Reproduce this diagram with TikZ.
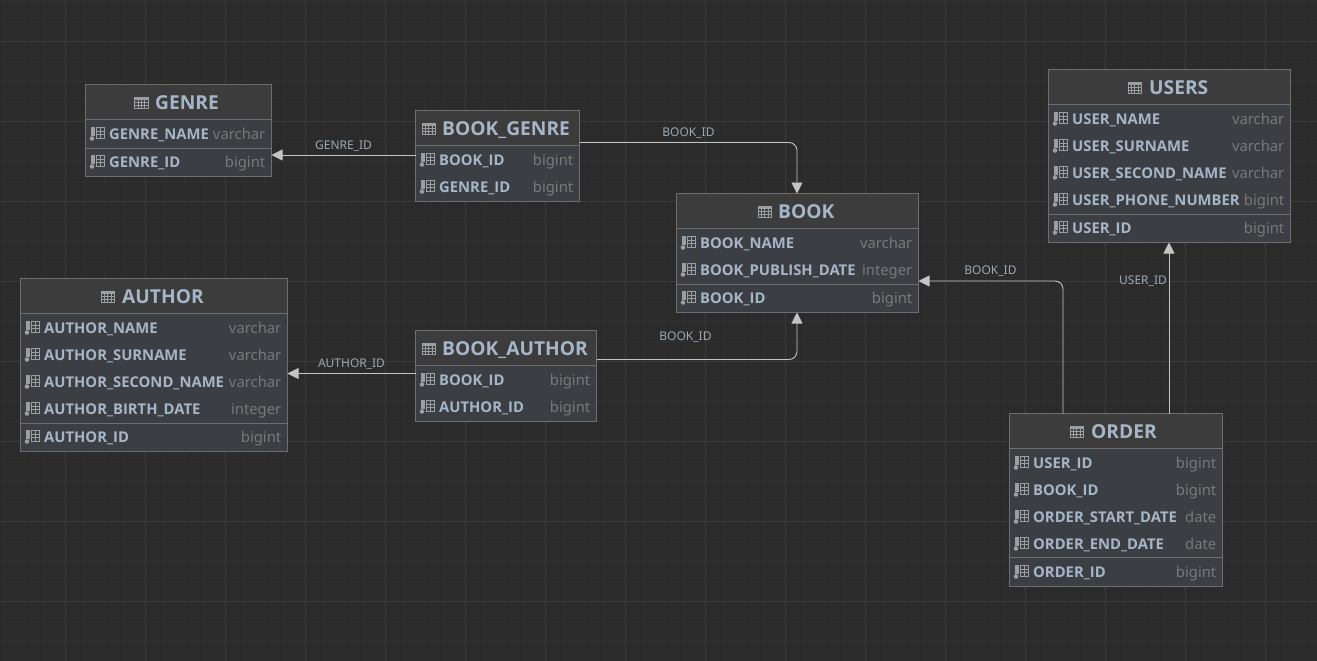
\documentclass[tikz,border=0pt]{standalone}
\usepackage{fontspec}
\setmainfont{Open Sans}
\newfontfamily\typefont{Noto Sans}
\usetikzlibrary{arrows.meta}
\definecolor{bgc}{HTML}{2B2B2B}
\definecolor{gridmin}{HTML}{313131}
\definecolor{gridmaj}{HTML}{3C3C3C}
\definecolor{headc}{HTML}{3C3C3C}
\definecolor{bodyc}{HTML}{3B3F43}
\definecolor{edgec}{HTML}{6E6E6E}
\definecolor{namec}{HTML}{A6B6C8}
\definecolor{typec}{HTML}{787878}
\definecolor{labc}{HTML}{9DA8B3}
\definecolor{linec}{HTML}{C4C4C4}
\definecolor{iconc}{HTML}{9A9FA3}
\tikzset{
  tablebox/.style={draw=edgec,fill=bodyc,line width=1pt,inner sep=0pt,outer sep=0pt,rectangle},
  titletext/.style={anchor=base west,inner sep=0pt,text=namec,font=\fontsize{19.2}{20}\selectfont\bfseries},
  fieldtext/.style={anchor=base west,inner sep=0pt,text=namec,font=\fontsize{14.8}{16}\selectfont\bfseries},
  typetext/.style={anchor=base east,inner sep=0pt,text=typec,font=\typefont\fontsize{14.8}{16}\selectfont},
  linklabel/.style={inner sep=0pt,text=labc,font=\typefont\fontsize{12}{14}\selectfont},
  link/.style={draw=linec,line width=.9pt,rounded corners=8pt,-{Triangle[length=11pt,width=11pt,fill=linec]}},
  sepline/.style={draw=edgec,line width=1pt}
}
\newcommand{\tablebase}[6]{%
  \node[tablebox,minimum width={(#4-#2)*1pt},minimum height={(#5-#3)*1pt}] (#1) at ({(#2+#4)/2},{(#3+#5)/2}) {};
  \fill[headc] (#2+.5,#3+.5) rectangle (#4-.5,#6);
  \draw[sepline] (#2,#6) -- (#4,#6);
}
\newcommand{\tabletitle}[5]{%
  \draw[iconc,line width=.9pt] (#2+.5,#4-5) rectangle (#2+14,#4+6)
    (#2+.5,#4-2.2) -- (#2+14,#4-2.2) (#2+.5,#4+.6) -- (#2+14,#4+.6) (#2+.5,#4+3.3) -- (#2+14,#4+3.3)
    (#2+4,#4-5) -- (#2+4,#4+6) (#2+7.3,#4-5) -- (#2+7.3,#4+6) (#2+10.6,#4-5) -- (#2+10.6,#4+6);
  \fill[iconc] (#2+.5,#4-5) rectangle (#2+14,#4-2.2);
  \node[titletext] (#1-title) at (#3,#4+7.5) {#5};
}
\newcommand{\tablerow}[6]{%
  \fill[iconc] (#2+5,#4-7) rectangle (#2+9,#4+2);
  \fill[iconc] (#2+6.5,#4+4.5) circle (2.3);
  \draw[iconc,line width=.8pt] (#2+11,#4-6.5) rectangle (#2+19,#4+4)
     (#2+11,#4-3) -- (#2+19,#4-3) (#2+11,#4+.5) -- (#2+19,#4+.5) (#2+15,#4-6.5) -- (#2+15,#4+4);
  \node[fieldtext] (#1-f#4) at (#2+23.5,#4+5) {#5};
  \node[typetext] (#1-t#4) at (#3-6,#4+5) {#6};
}
\begin{document}
\begin{tikzpicture}[x=1pt,y=-1pt]
\useasboundingbox (0,0) rectangle (1317,661);
\fill[bgc] (0,0) rectangle (1317,661);
\foreach \i in {0,...,66} {\draw[gridmin,line width=1pt] ({5.5+20*\i},0) -- ({5.5+20*\i},661);}
\foreach \i in {0,...,33} {\draw[gridmin,line width=1pt] (0,{1.5+20*\i}) -- (1317,{1.5+20*\i});}
\foreach \i in {0,...,16} {\draw[gridmaj,line width=1pt] ({65.5+80*\i},0) -- ({65.5+80*\i},661);}
\foreach \i in {0,...,7} {\draw[gridmaj,line width=1pt] (0,{41.5+80*\i}) -- (1317,{41.5+80*\i});}

\tablebase{genre}{85.5}{84.5}{271.5}{176.5}{119.5}
\tabletitle{genre}{134}{155}{102}{GENRE}
\tablerow{genre}{85.5}{271.5}{134}{GENRE\_NAME}{varchar}
\draw[sepline] (85.5,148) -- (271.5,148);
\tablerow{genre}{85.5}{271.5}{162}{GENRE\_ID}{bigint}

\tablebase{bookgenre}{415.5}{110.5}{579.5}{201.5}{145.5}
\tabletitle{bookgenre}{421.5}{442}{128}{BOOK\_GENRE}
\tablerow{bookgenre}{415.5}{579.5}{160}{BOOK\_ID}{bigint}
\tablerow{bookgenre}{415.5}{579.5}{187}{GENRE\_ID}{bigint}

\tablebase{book}{676.5}{193.5}{918.5}{312.5}{228.5}
\tabletitle{book}{757.5}{778}{211}{BOOK}
\tablerow{book}{676.5}{918.5}{243}{BOOK\_NAME}{varchar}
\tablerow{book}{676.5}{918.5}{270}{BOOK\_PUBLISH\_DATE}{integer}
\draw[sepline] (676.5,284) -- (918.5,284);
\tablerow{book}{676.5}{918.5}{298}{BOOK\_ID}{bigint}

\tablebase{users}{1048.5}{69.5}{1290.5}{242.5}{104.5}
\tabletitle{users}{1127.5}{1149}{87}{USERS}
\tablerow{users}{1048.5}{1290.5}{119}{USER\_NAME}{varchar}
\tablerow{users}{1048.5}{1290.5}{146}{USER\_SURNAME}{varchar}
\tablerow{users}{1048.5}{1290.5}{173}{USER\_SECOND\_NAME}{varchar}
\tablerow{users}{1048.5}{1290.5}{200}{USER\_PHONE\_NUMBER}{bigint}
\draw[sepline] (1048.5,214) -- (1290.5,214);
\tablerow{users}{1048.5}{1290.5}{228}{USER\_ID}{bigint}

\tablebase{author}{20.5}{278.5}{287.5}{451.5}{313.5}
\tabletitle{author}{100.5}{122}{296}{AUTHOR}
\tablerow{author}{20.5}{287.5}{328}{AUTHOR\_NAME}{varchar}
\tablerow{author}{20.5}{287.5}{355}{AUTHOR\_SURNAME}{varchar}
\tablerow{author}{20.5}{287.5}{382}{AUTHOR\_SECOND\_NAME}{varchar}
\tablerow{author}{20.5}{287.5}{409}{AUTHOR\_BIRTH\_DATE}{integer}
\draw[sepline] (20.5,423) -- (287.5,423);
\tablerow{author}{20.5}{287.5}{437}{AUTHOR\_ID}{bigint}

\tablebase{bookauthor}{415.5}{330.5}{596.5}{421.5}{365.5}
\tabletitle{bookauthor}{421.5}{442}{348}{BOOK\_AUTHOR}
\tablerow{bookauthor}{415.5}{596.5}{380}{BOOK\_ID}{bigint}
\tablerow{bookauthor}{415.5}{596.5}{407}{AUTHOR\_ID}{bigint}

\tablebase{order}{1009.5}{413.5}{1222.5}{586}{448.5}
\tabletitle{order}{1069.5}{1091}{431}{ORDER}
\tablerow{order}{1009.5}{1222.5}{463}{USER\_ID}{bigint}
\tablerow{order}{1009.5}{1222.5}{490}{BOOK\_ID}{bigint}
\tablerow{order}{1009.5}{1222.5}{517}{ORDER\_START\_DATE}{date}
\tablerow{order}{1009.5}{1222.5}{544}{ORDER\_END\_DATE}{date}
\draw[sepline] (1009.5,557) -- (1222.5,557);
\tablerow{order}{1009.5}{1222.5}{572}{ORDER\_ID}{bigint}

\draw[link] ([yshift=1pt]bookgenre.west) -- ([yshift=-24.5pt]genre.east);
\draw[link] ([yshift=13.5pt]bookgenre.east) -| ([xshift=-.5pt]book.north);
\draw[link] ([yshift=2.5pt]bookauthor.west) -- ([yshift=-8.5pt]author.east);
\draw[link] ([yshift=16.5pt]bookauthor.east) -| ([xshift=-.5pt]book.south);
\draw[link] ([xshift=-53pt]order.north) |- ([yshift=-28pt]book.east);
\draw[link] ([xshift=53pt]order.north) -- ([xshift=53pt]order.north |- users.south);

\node[linklabel] (l1) at (343.5,146) {GENRE\_ID};
\node[linklabel] (l2) at (688.5,133.5) {BOOK\_ID};
\node[linklabel] (l3) at (351.5,364.5) {AUTHOR\_ID};
\node[linklabel] (l4) at (685.5,337.5) {BOOK\_ID};
\node[linklabel] (l5) at (990.5,271.5) {BOOK\_ID};
\node[linklabel] (l6) at (1143,281.5) {USER\_ID};
\end{tikzpicture}
\end{document}
